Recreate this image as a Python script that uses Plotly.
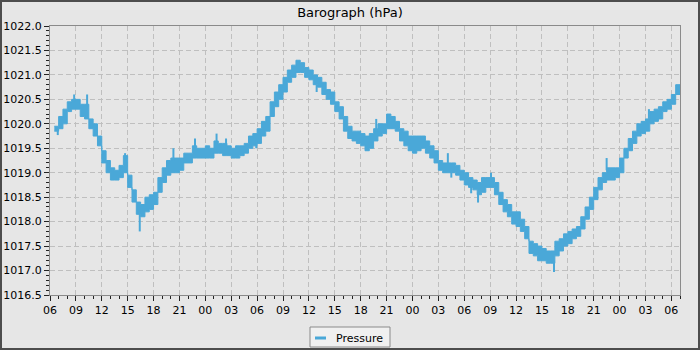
import plotly.graph_objects as go
import pandas as pd

# ---------------- data ----------------
series_name = "Pressure"
start_time = "2024-03-01 06:30"      # first 30-minute block
block = "30min"

# lower / upper envelope of the barograph trace per 30-minute block (hPa)
lo = [
    1019.85, 1019.9, 1020.0, 1020.25, 1020.3, 1020.3, 1020.15, 1020.1, 1019.9, 1019.75,
    1019.55, 1019.2, 1019.0, 1018.85, 1018.85, 1018.9, 1019.0, 1018.7, 1018.4, 1018.15,
    1018.1, 1018.2, 1018.25,
    1018.35, 1018.6, 1018.8, 1018.95, 1019.0, 1019.0, 1019.05, 1019.2, 1019.2, 1019.3,
    1019.3, 1019.3, 1019.3, 1019.3, 1019.4, 1019.4, 1019.35, 1019.35, 1019.3, 1019.3,
    1019.35, 1019.4, 1019.5, 1019.55,
    1019.6, 1019.75, 1019.85, 1020.15, 1020.35, 1020.5, 1020.65, 1020.85, 1020.95, 1021.05,
    1021.05, 1020.95, 1020.9, 1020.8, 1020.75, 1020.6, 1020.5, 1020.4, 1020.25, 1020.1,
    1019.85, 1019.7, 1019.65, 1019.6,
    1019.55, 1019.45, 1019.5, 1019.65, 1019.75, 1019.8, 1019.9, 1019.9, 1019.85, 1019.65,
    1019.55, 1019.45, 1019.4, 1019.45, 1019.5, 1019.4, 1019.3, 1019.2, 1019.05, 1019.0,
    1019.0, 1019.0, 1018.95, 1018.85,
    1018.75, 1018.7, 1018.65, 1018.55, 1018.6, 1018.7, 1018.7, 1018.55, 1018.35, 1018.2,
    1018.1, 1017.95, 1017.9, 1017.8, 1017.65, 1017.35, 1017.3, 1017.2, 1017.2, 1017.15,
    1017.15, 1017.3, 1017.4, 1017.5,
    1017.55, 1017.65, 1017.7, 1017.85, 1018.05, 1018.25, 1018.45, 1018.65, 1018.8, 1018.85,
    1018.85, 1018.9, 1019.0, 1019.3, 1019.45, 1019.6, 1019.75, 1019.8, 1019.85, 1020.0,
    1020.05, 1020.1, 1020.25, 1020.3, 1020.4, 1020.6,
]
hi = [
    1019.95, 1020.15, 1020.3, 1020.45, 1020.5, 1020.5, 1020.4, 1020.4, 1020.1, 1020.0,
    1019.75, 1019.45, 1019.25, 1019.1, 1019.05, 1019.15, 1019.35, 1018.95, 1018.65, 1018.4,
    1018.35, 1018.5, 1018.55,
    1018.6, 1018.9, 1019.1, 1019.25, 1019.3, 1019.3, 1019.3, 1019.4, 1019.4, 1019.55,
    1019.5, 1019.5, 1019.55, 1019.5, 1019.65, 1019.6, 1019.6, 1019.55, 1019.5, 1019.55,
    1019.55, 1019.6, 1019.75, 1019.8,
    1019.9, 1020.05, 1020.15, 1020.45, 1020.65, 1020.8, 1020.95, 1021.1, 1021.2, 1021.3,
    1021.25, 1021.15, 1021.1, 1021.0, 1020.95, 1020.85, 1020.7, 1020.65, 1020.45, 1020.35,
    1020.15, 1019.95, 1019.85, 1019.85,
    1019.8, 1019.75, 1019.8, 1019.9, 1020.0, 1020.0, 1020.2, 1020.15, 1020.05, 1019.9,
    1019.85, 1019.75, 1019.75, 1019.75, 1019.75, 1019.65, 1019.55, 1019.45, 1019.25, 1019.2,
    1019.2, 1019.2, 1019.15, 1019.05,
    1019.0, 1018.9, 1018.85, 1018.8, 1018.9, 1018.9, 1018.9, 1018.8, 1018.6, 1018.45,
    1018.35, 1018.2, 1018.2, 1018.05, 1017.9, 1017.6, 1017.55, 1017.5, 1017.45, 1017.4,
    1017.4, 1017.6, 1017.65, 1017.75,
    1017.8, 1017.85, 1017.9, 1018.1, 1018.3, 1018.5, 1018.7, 1018.9, 1019.0, 1019.1,
    1019.1, 1019.1, 1019.3, 1019.5, 1019.7, 1019.85, 1020.0, 1020.05, 1020.1, 1020.25,
    1020.3, 1020.35, 1020.45, 1020.5, 1020.6, 1020.8,
]

# short single-reading spikes sticking out of the band
spike_times = [
    "2024-03-01 06:54", "2024-03-01 08:48", "2024-03-01 10:18", "2024-03-01 14:42",
    "2024-03-01 16:24", "2024-03-01 20:18", "2024-03-01 22:48", "2024-03-02 01:18",
    "2024-03-02 02:24", "2024-03-02 05:54", "2024-03-02 12:54", "2024-03-02 19:48",
    "2024-03-03 04:06", "2024-03-03 04:30", "2024-03-03 06:48", "2024-03-03 07:36",
    "2024-03-03 09:06", "2024-03-03 16:24", "2024-03-03 22:30", "2024-03-04 03:24",
]
spike_from = [
    1019.77, 1020.45, 1020.35, 1019.3, 1017.8, 1019.25, 1019.5, 1019.6,
    1019.5, 1019.5, 1020.65, 1019.85, 1019.2, 1018.9, 1018.58, 1018.39,
    1018.85, 1016.97, 1019.05, 1020.1,
]
spike_to = [
    1019.9, 1020.6, 1020.6, 1019.4, 1018.2, 1019.5, 1019.7, 1019.8,
    1019.7, 1019.65, 1020.8, 1020.1, 1019.4, 1019.05, 1018.8, 1018.6,
    1019.0, 1017.2, 1019.3, 1020.3,
]

x_start = "2024-03-01 06:00"
x_end = "2024-03-04 07:00"
y_min, y_max = 1016.5, 1022.0
title_text = "Barograph (hPa)"

# ---------------- figure ----------------
blue = "#4aa8d8"
font_family = "DejaVu Sans"

times = pd.date_range(start_time, periods=len(lo) + 1, freq=block)
lo_ext = lo + [lo[-1]]
hi_ext = hi + [hi[-1]]

fig = go.Figure()
fig.add_trace(go.Scatter(
    x=times, y=lo_ext, mode="lines", line=dict(color=blue, width=1, shape="hv"),
    showlegend=False, hoverinfo="skip"))
fig.add_trace(go.Scatter(
    x=times, y=hi_ext, mode="lines", line=dict(color=blue, width=1, shape="hv"),
    fill="tonexty", fillcolor=blue, name=series_name, showlegend=False))

sx, sy = [], []
for t, a, b in zip(spike_times, spike_from, spike_to):
    sx += [t, t, None]
    sy += [a, b, None]
fig.add_trace(go.Scatter(x=sx, y=sy, mode="lines", line=dict(color=blue, width=2),
                         showlegend=False, hoverinfo="skip"))

W, H = 700, 350
ml, mr, mt, mb = 50, 20, 26, 55
pw, ph = W - ml - mr, H - mt - mb

def px(x):
    return (x - ml) / pw

def py(y):
    return (H - mb - y) / ph

axis_common = dict(
    showline=True, linecolor="#8a8a8a", linewidth=1, mirror=True,
    ticks="outside", ticklen=5, tickcolor="#222", tickwidth=1,
    showgrid=True, gridcolor="#bfbfbf", gridwidth=1, griddash="5px,3px",
    zeroline=False, tickfont=dict(family=font_family, size=11, color="#000"),
    automargin=False,
)

fig.update_xaxes(
    **axis_common, type="date", range=[x_start, x_end],
    dtick=3 * 3600 * 1000, tick0=x_start, tickformat="%H",
    minor=dict(dtick=3600 * 1000, ticks="outside", ticklen=3, tickcolor="#222", showgrid=False),
)
fig.update_yaxes(
    **axis_common, range=[y_min, y_max], dtick=0.5, tick0=1016.5, tickformat=".1f",
    minor=dict(dtick=0.1, ticks="outside", ticklen=3, tickcolor="#222", showgrid=False),
)

shapes = [
    # outer frame of the whole picture
    dict(type="rect", xref="paper", yref="paper",
         x0=px(0), x1=px(W), y0=py(H), y1=py(0),
         line=dict(color="#4d4d4d", width=4), fillcolor="rgba(0,0,0,0)", layer="above"),
    # legend box
    dict(type="rect", xref="paper", yref="paper",
         x0=px(310), x1=px(390), y0=py(347), y1=py(327),
         line=dict(color="#8a8a8a", width=1), fillcolor="#f0f0f0", layer="above"),
    # legend line sample
    dict(type="line", xref="paper", yref="paper",
         x0=px(315), x1=px(326), y0=py(338), y1=py(338),
         line=dict(color=blue, width=3), layer="above"),
]

annotations = [
    dict(text=series_name, xref="paper", yref="paper", x=px(334), y=py(338),
         xanchor="left", yanchor="middle", showarrow=False,
         font=dict(family=font_family, size=11, color="#000")),
]

fig.update_layout(
    width=W, height=H,
    margin=dict(l=ml, r=mr, t=mt, b=mb, pad=0, autoexpand=False),
    paper_bgcolor="#e6e6e6", plot_bgcolor="#e6e6e6",
    title=dict(text=title_text, x=0.5, xref="container", xanchor="center",
               y=1 - 12 / H, yref="container", yanchor="middle",
               font=dict(family=font_family, size=13, color="#000")),
    shapes=shapes, annotations=annotations,
    showlegend=False,
    font=dict(family=font_family),
)

fig.write_html("out.html", config={"displayModeBar": False})
